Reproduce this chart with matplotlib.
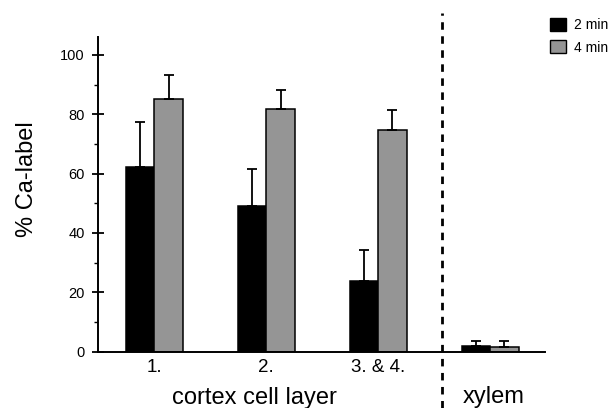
import matplotlib
matplotlib.use("Agg")
import matplotlib.pyplot as plt
import numpy as np
from matplotlib.patches import Patch
from matplotlib.ticker import MultipleLocator

# data
groups = ["1.", "2.", "3. & 4.", ""]
mean_2min = [62.3, 49.1, 23.7, 1.8]
err_2min = [15.0, 12.6, 10.6, 1.9]
mean_4min = [85.2, 81.7, 74.6, 1.6]
err_4min = [8.1, 6.5, 6.7, 1.9]
series_labels = ["2 min", "4 min"]

W, H = 612, 408
fig = plt.figure(figsize=(W / 100, H / 100), dpi=100)
fig.patch.set_facecolor("white")

# axes placed in pixel terms of the reference
x0, x1 = 97.7, 545.0
y_zero, y_top = 351.7, 37.0
ax = fig.add_axes([x0 / W, 1 - y_zero / H, (x1 - x0) / W, (y_zero - y_top) / H])

regular = ["Liberation Sans", "DejaVu Sans"]

x = np.arange(len(groups))
w = 0.255
gray = "#959595"
ekw = dict(ecolor="black", elinewidth=1.3, capsize=3.5, capthick=1.3)
ax.bar(x - w / 2, mean_2min, w, color="black", edgecolor="black", lw=1.1,
       yerr=[np.zeros(len(x)), err_2min], error_kw=ekw)
ax.bar(x + w / 2, mean_4min, w, color=gray, edgecolor="black", lw=1.1,
       yerr=[np.zeros(len(x)), err_4min], error_kw=ekw)

ax.set_xlim(-0.506, 3.49)
ax.set_ylim(0, 106)

for s in ["top", "right"]:
    ax.spines[s].set_visible(False)
for s in ["left", "bottom"]:
    ax.spines[s].set_linewidth(1.4)

ax.yaxis.set_major_locator(MultipleLocator(20))
ax.yaxis.set_minor_locator(MultipleLocator(10))
ax.tick_params(axis="y", which="major", direction="inout", length=9, width=1.3, pad=5)
ax.tick_params(axis="y", which="minor", direction="out", length=3, width=1.0)
for lab in ax.get_yticklabels():
    lab.set_family(regular)
    lab.set_fontsize(10.5)

ax.set_xticks(x[:3])
ax.set_xticklabels(groups[:3], family=regular, fontsize=13.5)
ax.tick_params(axis="x", length=0, pad=5)

# separator between cortex and xylem
sep = 2.571
ax.axvline(sep, ymin=(y_zero - H) / (y_zero - y_top), ymax=(y_zero - 13) / (y_zero - y_top),
           color="black", lw=2, linestyle=(0, (2.7, 2.35)), clip_on=False)

fig.text(254 / W, 1 - 398 / H, "cortex cell layer", ha="center", va="center",
         family=regular, fontsize=17)
fig.text(493.5 / W, 1 - 397 / H, "xylem", ha="center", va="center",
         family=regular, fontsize=17)
fig.text(27 / W, 1 - 179 / H, "% Ca-label", ha="center", va="center",
         rotation=90, family=regular, fontsize=17)

handles = [Patch(facecolor="black", edgecolor="black"),
           Patch(facecolor=gray, edgecolor="black")]
fig.legend(handles, series_labels, loc="upper left",
           bbox_to_anchor=(543 / W, 1 - 11 / H), frameon=False, borderpad=0,
           handlelength=1.15, handleheight=1.05, handletextpad=0.55,
           labelspacing=0.6, prop=dict(family=regular, size=10))

fig.savefig("out.png", dpi=100, facecolor="white")
